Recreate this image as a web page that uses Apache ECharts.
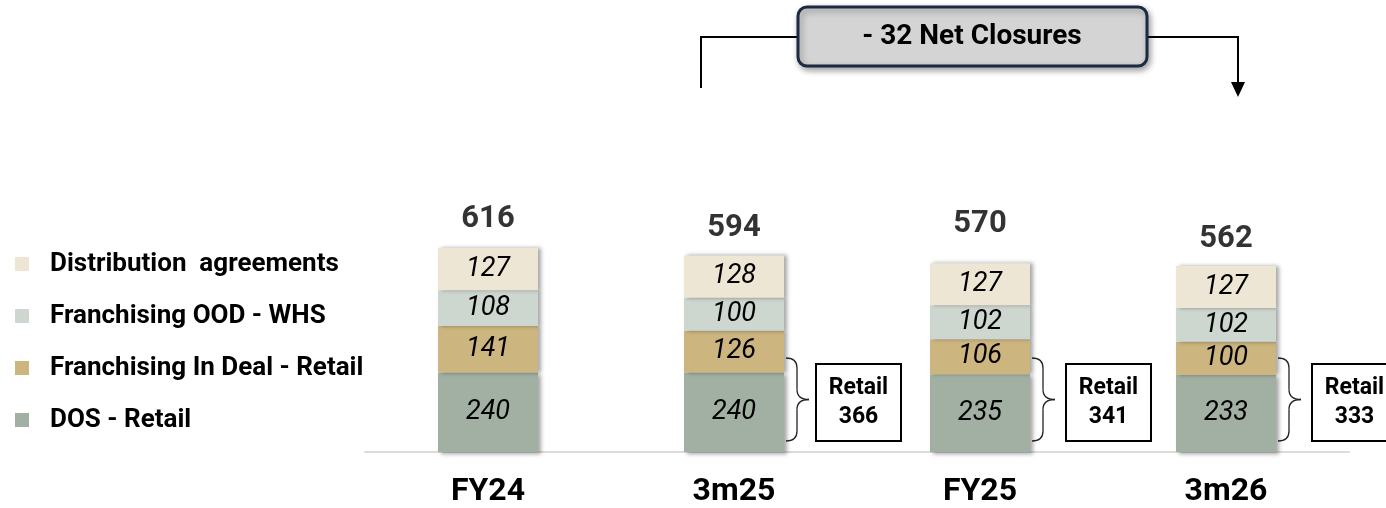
<!DOCTYPE html>
<html>
<head>
<meta charset="utf-8">
<script src="https://cdn.jsdelivr.net/npm/echarts@6/dist/echarts.min.js"></script>
<style>
  html, body { margin: 0; padding: 0; background: #fff; }
  #chart { width: 1386px; height: 508px; }
</style>
</head>
<body>
<div id="chart"></div>
<script>
// Store counts by channel, per period
const periods = ['FY24', '3m25', 'FY25', '3m26'];
const dosRetail = [240, 240, 235, 233];
const franchInDeal = [141, 126, 106, 100];
const franchOOD = [108, 100, 102, 102];
const distribution = [127, 128, 127, 127];

const seriesNames = {
  dos: 'DOS - Retail',
  inDeal: 'Franchising In Deal - Retail',
  ood: 'Franchising OOD - WHS',
  dist: 'Distribution  agreements'
};

const colors = {
  dos: '#A2B0A3',
  inDeal: '#CDB57F',
  ood: '#CED6D0',
  dist: '#EEE6D5'
};

const totals = periods.map((_, i) => dosRetail[i] + franchInDeal[i] + franchOOD[i] + distribution[i]);
const retail = periods.map((_, i) => dosRetail[i] + franchInDeal[i]);
// gap between each total label and its bar top
const totalLabelGap = [13, 11, 23, 11];

const FONT = 'Roboto, "Noto Sans", sans-serif';

const chart = echarts.init(document.getElementById('chart'), null, { renderer: 'canvas' });

function segment(name, data, color, dropShadowY) {
  return {
    name: name,
    type: 'bar',
    stack: 'stores',
    barWidth: 100,
    data: data,
    itemStyle: {
      color: color,
      shadowColor: 'rgba(0,0,0,0.35)',
      shadowBlur: 4,
      shadowOffsetX: 3,
      shadowOffsetY: dropShadowY
    },
    label: {
      show: true,
      position: 'inside',
      fontFamily: FONT,
      fontStyle: 'italic',
      fontSize: 27,
      color: '#000'
    },
    emphasis: { disabled: true }
  };
}

chart.setOption({
  animation: false,
  backgroundColor: '#fff',
  grid: { left: 365, right: 37, top: 121, bottom: 56 },
  legend: {
    orient: 'vertical',
    left: 15,
    top: 250,
    padding: 0,
    icon: 'rect',
    itemWidth: 14,
    itemHeight: 14,
    itemGap: 24,
    selectedMode: false,
    data: [seriesNames.dist, seriesNames.ood, seriesNames.inDeal, seriesNames.dos],
    textStyle: {
      fontFamily: FONT,
      fontWeight: 'bold',
      fontSize: 26,
      lineHeight: 28,
      color: '#000',
      padding: [0, 0, 0, 16]
    }
  },
  xAxis: {
    type: 'category',
    data: periods,
    axisTick: { show: false },
    axisLine: { lineStyle: { color: '#DCDCDC', width: 2 } },
    axisLabel: {
      margin: 24,
      fontFamily: FONT,
      fontWeight: 'bold',
      fontSize: 32,
      color: '#000'
    }
  },
  yAxis: {
    type: 'value',
    min: 0,
    max: 1000,
    show: false,
    splitLine: { show: false }
  },
  series: [
    segment(seriesNames.dos, dosRetail, colors.dos, 2),
    segment(seriesNames.inDeal, franchInDeal, colors.inDeal, 0),
    segment(seriesNames.ood, franchOOD, colors.ood, 0),
    segment(seriesNames.dist, distribution, colors.dist, 0),
    {
      name: 'Total',
      type: 'scatter',
      symbolSize: 1,
      itemStyle: { color: 'rgba(0,0,0,0)' },
      data: totals.map((v, i) => ({
        value: v,
        label: { distance: totalLabelGap[i] }
      })),
      label: {
        show: true,
        position: 'top',
        fontFamily: FONT,
        fontWeight: 'bold',
        fontSize: 31,
        color: '#000'
      },
      emphasis: { disabled: true },
      z: 5
    }
  ]
});

// Retail brackets and the net-closures annotation
function drawAnnotations() {
  const baseY = chart.convertToPixel({ yAxisIndex: 0 }, 0);
  const elements = [];
  const braceStyle = { fill: null, stroke: '#222', lineWidth: 1.3 };
  const boxOffset = [0, 32, 36, 36];

  for (let i = 1; i < periods.length; i++) {
    const cx = chart.convertToPixel({ xAxisIndex: 0 }, i);
    const barRight = cx + 50;
    const x0 = barRight + 2, x1 = barRight + 13, x2 = barRight + 25;
    const y0 = baseY - 94, y1 = baseY - 11, ym = (y0 + y1) / 2, r = 10;
    // curly brace: four quadratic curves joined by two straight runs
    const curves = [
      [x0, y0, x1, y0 + r, x1, y0],
      [x1, ym - r, x2, ym, x1, ym],
      [x2, ym, x1, ym + r, x1, ym],
      [x1, y1 - r, x0, y1, x1, y1]
    ];
    curves.forEach(c => elements.push({
      type: 'bezierCurve',
      shape: { x1: c[0], y1: c[1], x2: c[2], y2: c[3], cpx1: c[4], cpy1: c[5] },
      style: braceStyle,
      z: 10
    }));
    elements.push({
      type: 'line',
      shape: { x1: x1, y1: y0 + r, x2: x1, y2: ym - r },
      style: braceStyle,
      z: 10
    });
    elements.push({
      type: 'line',
      shape: { x1: x1, y1: ym + r, x2: x1, y2: y1 - r },
      style: braceStyle,
      z: 10
    });

    const bx = barRight + boxOffset[i], bw = 85, by = baseY - 88, bh = 77;
    elements.push({
      type: 'rect',
      shape: { x: bx, y: by, width: bw, height: bh },
      style: { fill: '#fff', stroke: '#000', lineWidth: 2 },
      z: 10
    });
    elements.push({
      type: 'text',
      x: bx + bw / 2,
      y: by + bh / 2,
      style: {
        text: 'Retail\n' + retail[i],
        align: 'center',
        verticalAlign: 'middle',
        fontFamily: FONT,
        fontWeight: 'bold',
        fontSize: 23,
        lineHeight: 29,
        fill: '#000'
      },
      z: 11
    });
  }

  // net change between 3m25 and 3m26
  const net = totals[3] - totals[1];
  const netText = (net < 0 ? '- ' : '+ ') + Math.abs(net) + ' Net Closures';
  const lineY = 37;
  const leftX = 701, rightX = 1238;
  elements.push({
    type: 'polyline',
    shape: { points: [[leftX, 88], [leftX, lineY], [800, lineY]] },
    style: { stroke: '#000', lineWidth: 2, fill: null },
    z: 10
  });
  elements.push({
    type: 'polyline',
    shape: { points: [[1144, lineY], [rightX, lineY], [rightX, 84]] },
    style: { stroke: '#000', lineWidth: 2, fill: null },
    z: 10
  });
  elements.push({
    type: 'polygon',
    shape: { points: [[rightX - 7, 82], [rightX + 7, 82], [rightX, 97]] },
    style: { fill: '#000' },
    z: 10
  });
  elements.push({
    type: 'rect',
    shape: { x: 798, y: 7, width: 349, height: 59, r: 9 },
    style: {
      fill: '#D4D4D4',
      stroke: '#1C2B42',
      lineWidth: 3,
      shadowColor: 'rgba(0,0,0,0.35)',
      shadowBlur: 6,
      shadowOffsetX: 2,
      shadowOffsetY: 3
    },
    z: 11
  });
  elements.push({
    type: 'text',
    x: 972,
    y: 37,
    style: {
      text: netText,
      align: 'center',
      verticalAlign: 'middle',
      fontFamily: FONT,
      fontWeight: 'bold',
      fontSize: 28,
      fill: '#000'
    },
    z: 12
  });

  chart.setOption({ graphic: { elements: elements } });
}

drawAnnotations();
</script>
</body>
</html>
